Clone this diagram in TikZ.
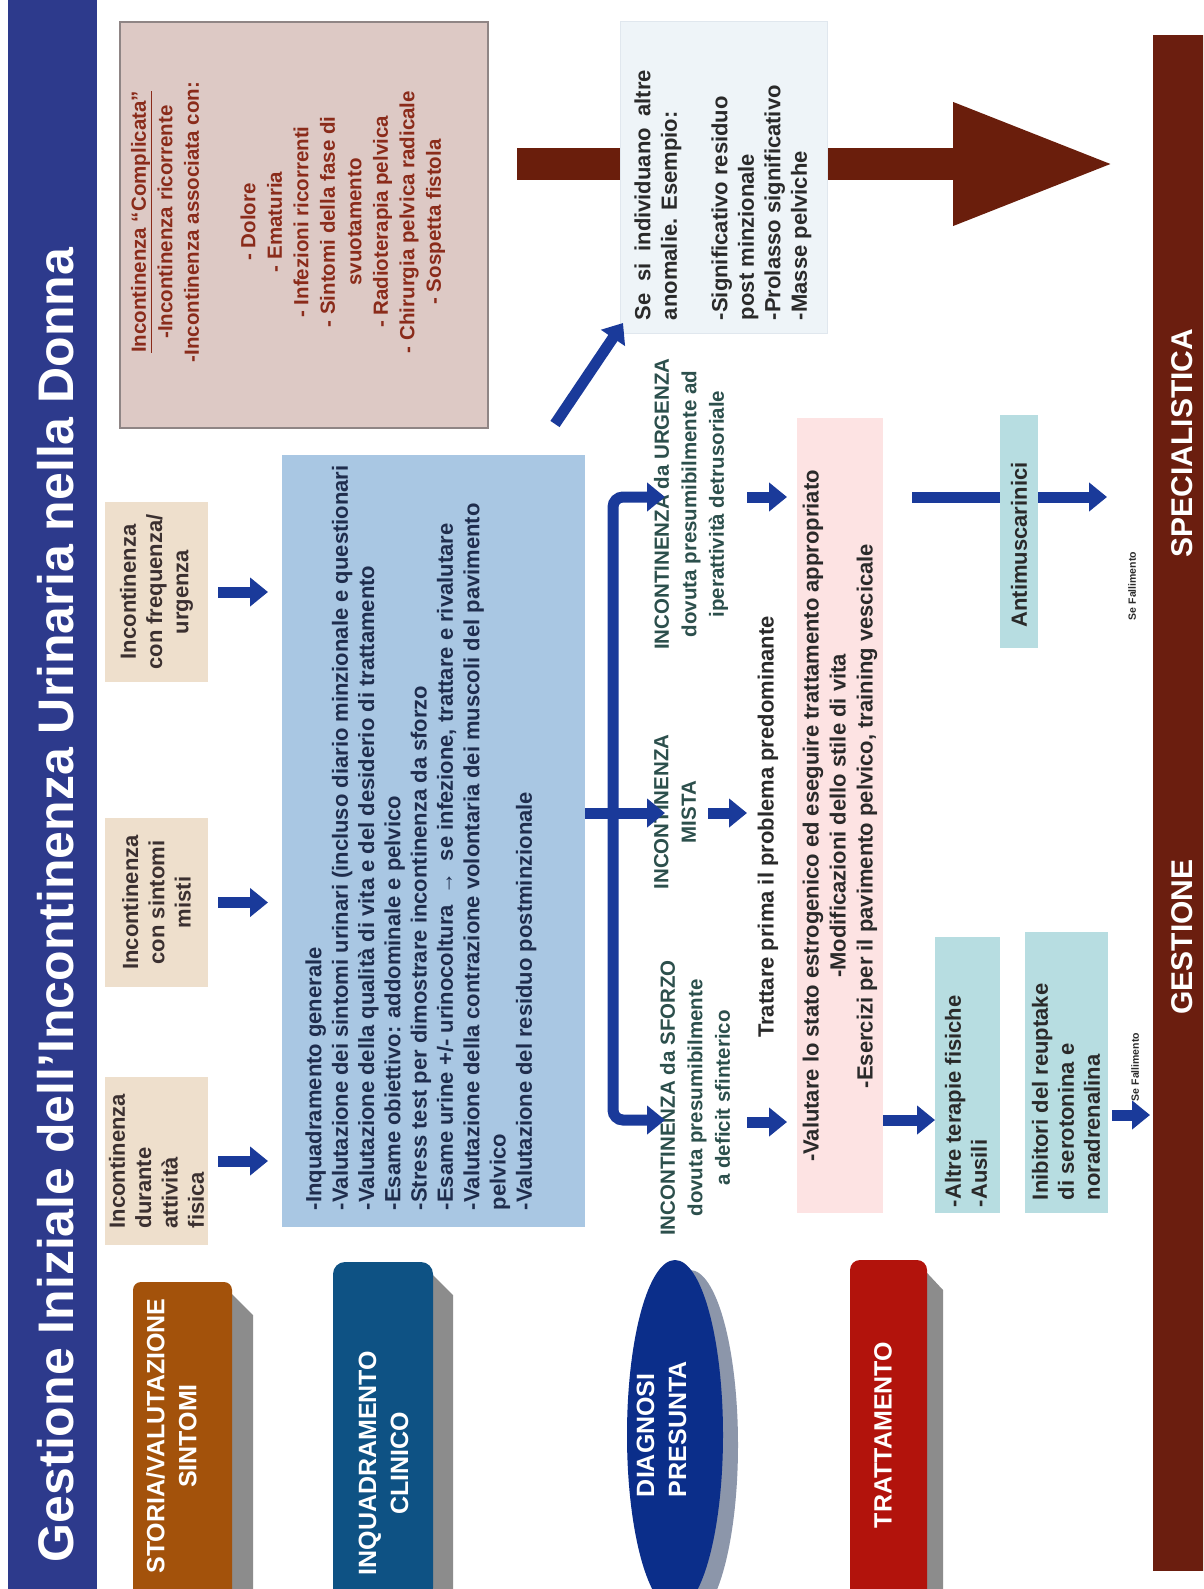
\documentclass[tikz,border=0pt]{standalone}
\usepackage{fontspec}
\setmainfont{Liberation Sans}
\usetikzlibrary{arrows.meta,shapes.geometric}
\definecolor{titleblue}{HTML}{2D3A8C}
\definecolor{beige}{HTML}{EEDFCC}
\definecolor{beigetext}{HTML}{3B3030}
\definecolor{complfill}{HTML}{DDC9C5}
\definecolor{complborder}{HTML}{8F8585}
\definecolor{compltext}{HTML}{8A2B1A}
\definecolor{bigblue}{HTML}{A9C7E3}
\definecolor{bigtext}{HTML}{1F2D4D}
\definecolor{arrowblue}{HTML}{1A3A9A}
\definecolor{brownarr}{HTML}{6A1E0C}
\definecolor{sesifill}{HTML}{EEF4F8}
\definecolor{sesiborder}{HTML}{E0E7EE}
\definecolor{diagtext}{HTML}{2C4F4C}
\definecolor{trattpink}{HTML}{FDE3E3}
\definecolor{tealbox}{HTML}{B7DDE1}
\definecolor{barbrown}{HTML}{6B1E0F}
\definecolor{storiacol}{HTML}{A3520B}
\definecolor{inqcol}{HTML}{0E5284}
\definecolor{diagcol}{HTML}{0B2E8A}
\definecolor{trattcol}{HTML}{B2130C}
\definecolor{shadowgrey}{HTML}{8C8C8C}
\definecolor{shadowblue}{HTML}{8C96AA}
\definecolor{darktext}{HTML}{2A2A2A}
\newcommand\fntA{\fontsize{22}{26.3}\selectfont\bfseries}
\newcommand\fntD{\fontsize{20.5}{27.5}\selectfont\bfseries}
\newcommand\fntL{\fontsize{25}{32}\selectfont\bfseries}
\begin{document}
\begin{tikzpicture}[x=1pt,y=-1pt,
  rot/.style={rotate=90,inner sep=0pt,outer sep=0pt},
  barrow/.style={draw=arrowblue,line width=11pt,-{Triangle[width=28pt,length=18pt]}},
  beigebox/.style={rot,fill=beige,minimum height=103pt,font=\fntA,text=beigetext},
  lbl/.style={rot,font=\fntL,text=white,align=center},
  tealnode/.style={rot,fill=tealbox}]
\useasboundingbox (0,0) rectangle (1203,1589);
\clip (0,0) rectangle (1203,1589);
\fill[white] (0,0) rectangle (1203,1589);

% title strip
\fill[titleblue] (8,0) rectangle (97,1589);
\node[rot,font=\fontsize{50}{56}\selectfont\bfseries,text=white] (title) at (56,905)
  {Gestione Iniziale dell'Incontinenza Urinaria nella Donna};

% row 1 boxes
\node[beigebox,minimum width=180pt,align=center] (freq) at (156.5,592)
  {Incontinenza\\con frequenza/\\urgenza};
\node[beigebox,minimum width=169pt,align=center] (misti) at (156.5,902.5)
  {Incontinenza\\con sintomi\\misti};
\node[beigebox,minimum width=168pt,align=left] (attiv) at (156.5,1161)
  {Incontinenza\\durante\\attività\\fisica};

% complicated box
\node[rot,fill=complfill,draw=complborder,line width=2.5pt,minimum width=406pt,minimum height=368pt] (compl) at (304,225) {};
\node[rot,align=center,font=\fontsize{20.5}{26.5}\selectfont\bfseries,text=compltext] (compltxt) at (288,222)
  {\underline{Incontinenza “Complicata”}\\-Incontinenza ricorrente\\-Incontinenza associata con:\\[30pt]
   - Dolore\\- Ematuria\\- Infezioni ricorrenti\\- Sintomi della fase di\\svuotamento\\- Radioterapia pelvica\\
   - Chirurgia pelvica radicale\\- Sospetta fistola};

% big brown arrow
\coordinate (brA) at (517,164);
\coordinate (brB) at (1115,164);
\draw[draw=brownarr,line width=32pt,-{Triangle[width=114pt,length=162pt]}] (brA) -- (brB);

% big blue box
\node[rot,fill=bigblue,minimum width=772pt,minimum height=303pt] (big) at (433.5,841) {};
\node[rot,anchor=west,align=left,font=\fntA,text=bigtext] (bigtxt) at (421,1210)
  {-Inquadramento generale\\
   -Valutazione dei sintomi urinari (incluso diario minzionale e questionari\\
   -Valutazione della qualità di vita e del desiderio di trattamento\\
   -Esame obiettivo: addominale e pelvico\\
   -Stress test per dimostrare incontinenza da sforzo\\
   -Esame urine +/- urinocoltura\enspace→\enspace se infezione, trattare e rivalutare\\
   -Valutazione della contrazione volontaria dei muscoli del pavimento\\
   pelvico\\
   -Valutazione del residuo postminzionale};

% row 1 arrows
\foreach \b in {freq,misti,attiv}
  \draw[barrow,shorten <=10pt,shorten >=14pt] (\b.south) -- (big.north |- \b.south);

% se si box
\node[rot,fill=sesifill,draw=sesiborder,line width=1pt,minimum width=311pt,minimum height=207pt] (sesi) at (723.5,177.5) {};
\node[rot,anchor=west,align=left,font=\fontsize{22}{26.5}\selectfont\bfseries,text=darktext] (sesitxt) at (723,320)
  {\makebox[250pt][s]{Se si individuano altre}\\anomalie. Esempio:\\[24pt]
   -Significativo residuo\\post minzionale\\-Prolasso significativo\\-Masse pelviche};
\coordinate (dA) at (555,424);
\coordinate (dB) at (623,323);
\draw[barrow] (dA) -- (dB);

% diagnosis texts
\node[rot,align=center,font=\fntD,text=diagtext] (urg) at (691,504)
  {INCONTINENZA da URGENZA\\dovuta presumibilmente ad\\iperattività detrusoriale};
\node[rot,align=center,font=\fntD,text=diagtext] (mista) at (675,812)
  {INCONTINENZA\\MISTA};
\node[rot,align=center,font=\fntD,text=diagtext] (sforzo) at (695,1098)
  {INCONTINENZA da SFORZO\\dovuta presumibilmente\\a deficit sfinterico};
\node[rot,font=\fntA,text=darktext] (prima) at (768,827) {Trattare prima il problema predominante};

% diagnosis connectors
\coordinate (bj) at (613,813);
\coordinate (tipU) at (665,497);
\coordinate (tipM) at (665,813);
\coordinate (tipS) at (665,1120);
\draw[barrow] (big.south |- bj) -- (tipM);
\draw[barrow,rounded corners=10pt] (bj) -- (bj |- tipU) -- (tipU);
\draw[barrow,rounded corners=10pt] (bj) -- (bj |- tipS) -- (tipS);

% treatment pink box
\node[rot,fill=trattpink,minimum width=795pt,minimum height=86pt] (tp) at (840,815.5) {};
\node[rot,align=center,font=\fontsize{22}{27}\selectfont\bfseries,text=darktext] (tptxt) at (840,816)
  {-Valutare lo stato estrogenico ed eseguire trattamento appropriato\\
   -Modificazioni dello stile di vita\\
   -Esercizi per il pavimento pelvico, training vescicale};
\coordinate (u2a) at (747,497);
\coordinate (m2a) at (708,813);
\coordinate (m2b) at (747,813);
\coordinate (s2a) at (747,1122);
\draw[barrow,shorten >=10pt] (u2a) -- (tp.north |- u2a);
\draw[barrow] (m2a) -- (m2b);
\draw[barrow,shorten >=10pt] (s2a) -- (tp.north |- s2a);

% bottom bar
\node[rot,fill=barbrown,minimum width=1536pt,minimum height=57pt] (bar) at (1181.5,803) {};
\node[rot,font=\fontsize{30}{34}\selectfont\bfseries,text=white] (gest) at (1182,937) {GESTIONE};
\node[rot,font=\fontsize{30}{34}\selectfont\bfseries,text=white] (spec) at (1182,443) {SPECIALISTICA};

% treatment boxes
\coordinate (am0) at (912,497);
\draw[barrow,shorten >=46pt] (am0) -- (bar.north |- am0);
\node[tealnode,minimum width=233pt,minimum height=38pt] (anti) at (1019,531.5) {};
\node[rot,font=\fntA,text=darktext] (antitxt) at (1019,545) {Antimuscarinici};
\node[tealnode,minimum width=276pt,minimum height=65pt] (altre) at (967.5,1075) {};
\node[rot,anchor=west,align=left,font=\fontsize{22}{26}\selectfont\bfseries,text=darktext] (altretxt) at (966,1207)
  {-Altre terapie fisiche\\-Ausili};
\node[tealnode,minimum width=281pt,minimum height=83pt] (inib) at (1066.5,1072.5) {};
\node[rot,anchor=west,align=left,font=\fontsize{22}{26}\selectfont\bfseries,text=darktext] (inibtxt) at (1066,1200)
  {Inibitori del reuptake\\di serotonina e\\noradrenalina};
\draw[barrow] (tp.south |- tipS) -- (altre.north |- tipS);
\coordinate (fl) at (1110,1115);
\draw[barrow,shorten <=4pt,shorten >=3pt] (inib.south |- fl) -- (bar.north |- fl);
\node[rot,font=\fontsize{10.5}{12}\selectfont\bfseries,text=darktext] (sf1) at (1135,1067) {Se Fallimento};
\node[rot,font=\fontsize{10.5}{12}\selectfont\bfseries,text=darktext] (sf2) at (1132,586) {Se Fallimento};

% left column labels
\fill[shadowgrey] (220,1282) -- (253,1315) -- (253,1600) -- (232,1600) -- cycle;
\node[rot,fill=storiacol,rounded corners=8pt,minimum width=318pt,minimum height=99pt] (storia) at (182.5,1441) {};
\node[lbl] (storiatxt) at (171.5,1436) {STORIA/VALUTAZIONE\\SINTOMI};

\fill[shadowgrey] (420,1262) -- (453,1295) -- (453,1600) -- (433,1600) -- cycle;
\node[rot,fill=inqcol,rounded corners=12pt,minimum width=338pt,minimum height=100pt] (inq) at (383,1431) {};
\node[lbl] (inqtxt) at (383.5,1463) {INQUADRAMENTO\\CLINICO};

\fill[shadowblue] (690,1445) ellipse [x radius=48, y radius=175];
\node[rot,ellipse,fill=diagcol,minimum width=350pt,minimum height=96pt] (diag) at (675,1435) {};
\node[lbl,align=left,anchor=west] (diagtxt) at (661.5,1497) {DIAGNOSI\\PRESUNTA};

\fill[shadowgrey] (915,1260) -- (943,1290) -- (943,1600) -- (927,1600) -- cycle;
\node[rot,fill=trattcol,rounded corners=10pt,minimum width=340pt,minimum height=77pt] (tratt) at (888.5,1430) {};
\node[lbl] (tratttxt) at (883,1435) {TRATTAMENTO};
\end{tikzpicture}
\end{document}
